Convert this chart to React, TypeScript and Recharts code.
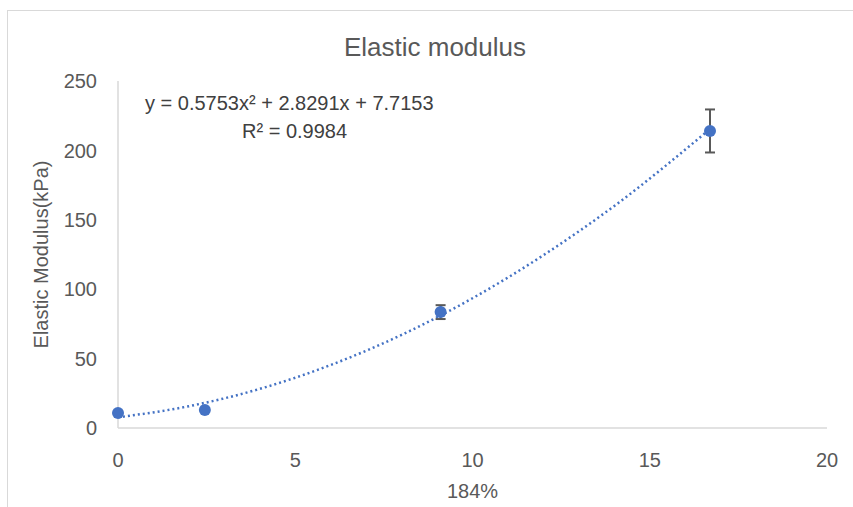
import { ComposedChart, Line, Scatter, XAxis, YAxis, ErrorBar } from 'recharts'

const strainX = [0, 2.45, 9.1, 16.7]
const modulus = [10.8, 13, 83.5, 214]
const modulusErr = [0, 0, 5, 15.5]

// trendline points
const trendX = [0, 2, 4, 6, 8, 10, 12, 14, 16.7]
const trendY = [7.7, 15.7, 28.2, 45.4, 67.1, 93.5, 124.5, 160.0, 215.4]

const xTicks = [0, 5, 10, 15, 20]
const yTicks = [0, 50, 100, 150, 200, 250]

const points = strainX.map((x, i) => ({ x, y: modulus[i], err: modulusErr[i] }))
const trend = trendX.map((x, i) => ({ x, t: trendY[i] }))

const BLUE = '#4472C4'
const GREY = '#595959'
const FONT = '"Liberation Sans", Arial, sans-serif'

export default function App() {
  return (
    <div style={{ position: 'absolute', left: 0, top: 0, width: 853, height: 507, overflow: 'hidden', background: '#fff', fontFamily: FONT }}>
      <div style={{ position: 'absolute', left: 7, top: 10, width: 900, height: 600, border: '1px solid #d9d9d9' }} />
      <div style={{ position: 'absolute', left: 0, width: 870, top: 32, textAlign: 'center', fontSize: 26, lineHeight: '31px', color: GREY }}>
        Elastic modulus
      </div>
      <div style={{ position: 'absolute', left: 145, top: 92, fontSize: 20, lineHeight: '23px', color: '#404040', whiteSpace: 'nowrap' }}>
        y = 0.5753x² + 2.8291x + 7.7153
      </div>
      <div style={{ position: 'absolute', left: 242, top: 120, fontSize: 20, lineHeight: '23px', color: '#404040', whiteSpace: 'nowrap' }}>
        R² = 0.9984
      </div>
      <div style={{ position: 'absolute', left: 0, top: 0 }}>
        <ComposedChart width={853} height={507} margin={{ top: 81, right: 26, bottom: 49, left: 58 }}>
          <XAxis
            type="number"
            dataKey="x"
            domain={[0, 20]}
            ticks={xTicks}
            tickLine={false}
            tickMargin={19}
            axisLine={{ stroke: '#d9d9d9', strokeWidth: 1.5 }}
            tick={{ fill: GREY, fontSize: 20, fontFamily: FONT }}
            label={{ value: '184%', position: 'bottom', offset: 26, fill: GREY, fontSize: 20, fontFamily: FONT }}
            allowDuplicatedCategory={false}
          />
          <YAxis
            type="number"
            width={60}
            domain={[0, 250]}
            ticks={yTicks}
            tickLine={false}
            tickMargin={15}
            axisLine={{ stroke: '#d9d9d9', strokeWidth: 1.5 }}
            tick={{ fill: GREY, fontSize: 20, fontFamily: FONT }}
            label={{ value: 'Elastic Modulus(kPa)', angle: -90, position: 'insideLeft', offset: -17, style: { textAnchor: 'middle' }, fill: GREY, fontSize: 20, fontFamily: FONT }}
          />
          <Line
            data={trend}
            dataKey="t"
            type="monotone"
            stroke={BLUE}
            strokeWidth={2.5}
            strokeDasharray="2 3"
            dot={false}
            activeDot={false}
            isAnimationActive={false}
          />
          <Scatter
            data={points}
            dataKey="y"
            fill={BLUE}
            isAnimationActive={false}
            shape={(p: any) => <circle cx={p.cx} cy={p.cy} r={6} fill={BLUE} />}
          >
            <ErrorBar dataKey="err" direction="y" width={5} stroke={GREY} strokeWidth={2} />
          </Scatter>
        </ComposedChart>
      </div>
    </div>
  )
}
